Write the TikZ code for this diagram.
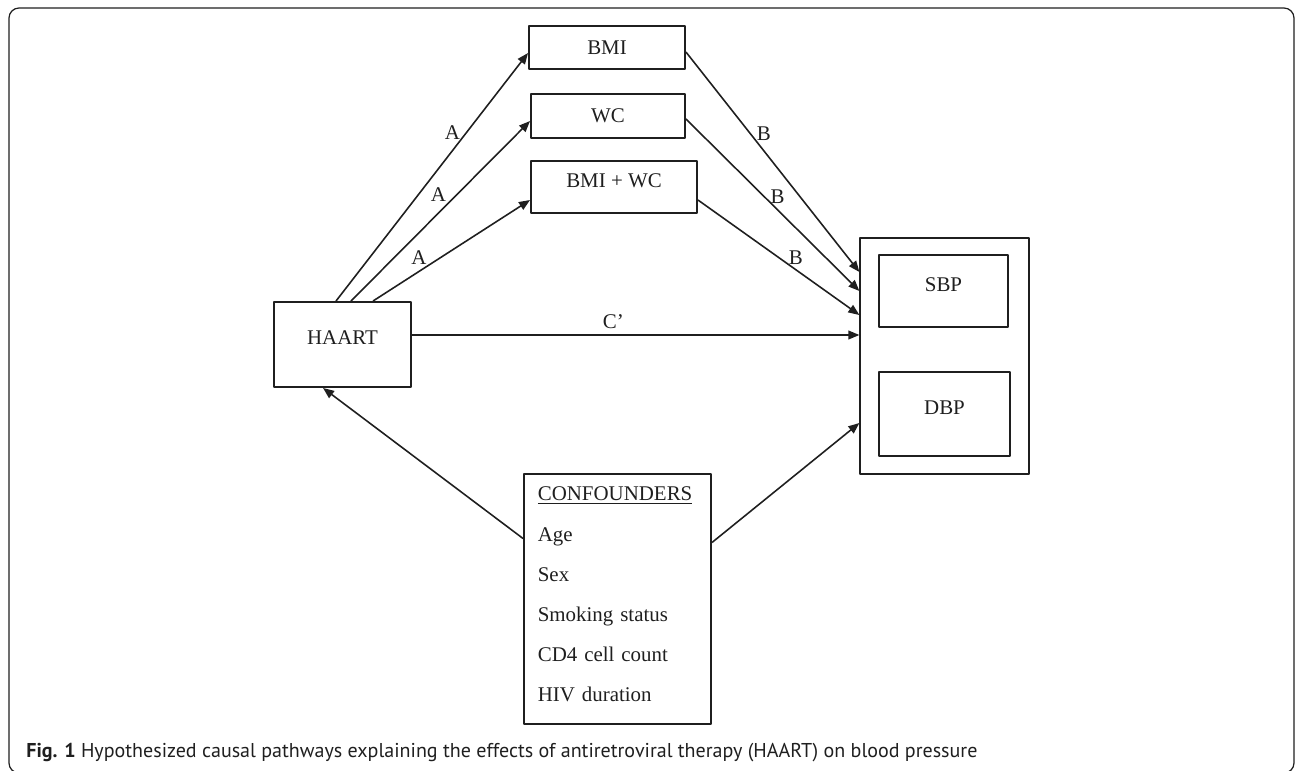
\documentclass[tikz,border=0pt]{standalone}
\usepackage{fontspec}
\setmainfont{Liberation Serif}
\newfontfamily\capfont{PT Sans}
\usetikzlibrary{arrows.meta,positioning}
\begin{document}
\begin{tikzpicture}[x=.02cm,y=-.02cm,>={Triangle[length=6.3pt,width=5pt]},
  line join=round,font=\fontsize{11.9}{14}\selectfont,color=black!88,
  box/.style={draw,line width=1.1pt,inner sep=0pt},
  mid/.style={text height=1.4ex,text depth=1.4ex},
  arr/.style={->,line width=.9pt}]
\useasboundingbox (0,0) rectangle (1296,771);
\draw[line width=.7pt,rounded corners=.2cm] (9,8) rectangle (1294,773);
\path
  (607,47.5) node[box,minimum width=3.12cm,minimum height=.86cm] (BMI) {BMI}
  (608,116) node[box,minimum width=3.08cm,minimum height=.88cm] (WC) {WC}
  (614,187) node[box,mid,minimum width=3.32cm,minimum height=1.04cm] (BMIWC) {BMI + WC}
  (342.5,344.5) node[box,mid,minimum width=2.74cm,minimum height=1.7cm] (HAART) {HAART}
  (944.5,356) node[box,line width=.7pt,minimum width=3.38cm,minimum height=4.72cm] (BP) {}
  (943.5,291) node[box,mid,minimum width=2.58cm,minimum height=1.44cm] (SBP) {SBP}
  (944.5,414) node[box,mid,minimum width=2.62cm,minimum height=1.68cm] (DBP) {DBP}
  (523,473) node[box,anchor=north west,align=left,text width=90.7pt,
    inner xsep=7.9pt,inner ysep=7.4pt,font=\fontsize{11.9}{22.9}\selectfont] (CONF)
    {\underline{CONFOUNDERS}\\Age\\Sex\\Smoking status\\CD4 cell count\\
     HIV duration\rule[-5.1pt]{0pt}{0pt}}
  (26,757) node[anchor=base west,inner sep=0pt,font=\capfont\fontsize{11.4}{13}\selectfont] (CAP)
    {\textbf{Fig. 1} Hypothesized causal pathways explaining the effects of antiretroviral therapy (HAART) on blood pressure}
;
\draw[arr]
  ([shift={(-6.5,0)}]HAART.north) -- ([shift={(0,5.5)}]BMI.west) node[pos=.68,left]{A};
\draw[arr]
  ([shift={(8.5,0)}]HAART.north) -- ([shift={(0,5)}]WC.west) node[pos=.59,left=2.3pt]{A};
\draw[arr]
  ([shift={(30.5,0)}]HAART.north) -- ([shift={(0,13)}]BMIWC.west) node[pos=.43,left=4.2pt]{A};
\draw[arr]
  ([shift={(0,4.5)}]BMI.east) -- ([shift={(0,-84)}]BP.west) node[pos=.37,right]{B};
\draw[arr]
  ([shift={(0,3)}]WC.east) -- ([shift={(0,-65)}]BP.west) node[pos=.45,right]{B};
\draw[arr]
  ([shift={(0,13)}]BMIWC.east) -- ([shift={(0,-41)}]BP.west) node[pos=.5,right=2pt]{B};
\draw[arr]
  ([shift={(0,-9.5)}]HAART.east) -- ([shift={(0,-21)}]BP.west) node[pos=.45,above]{C’};
\draw[arr]
  ([shift={(0,-60.5)}]CONF.west) -- ([shift={(-19.5,0)}]HAART.south);
\draw[arr]
  ([shift={(0,-56.5)}]CONF.east) -- ([shift={(0,67)}]BP.west);
\end{tikzpicture}
\end{document}
